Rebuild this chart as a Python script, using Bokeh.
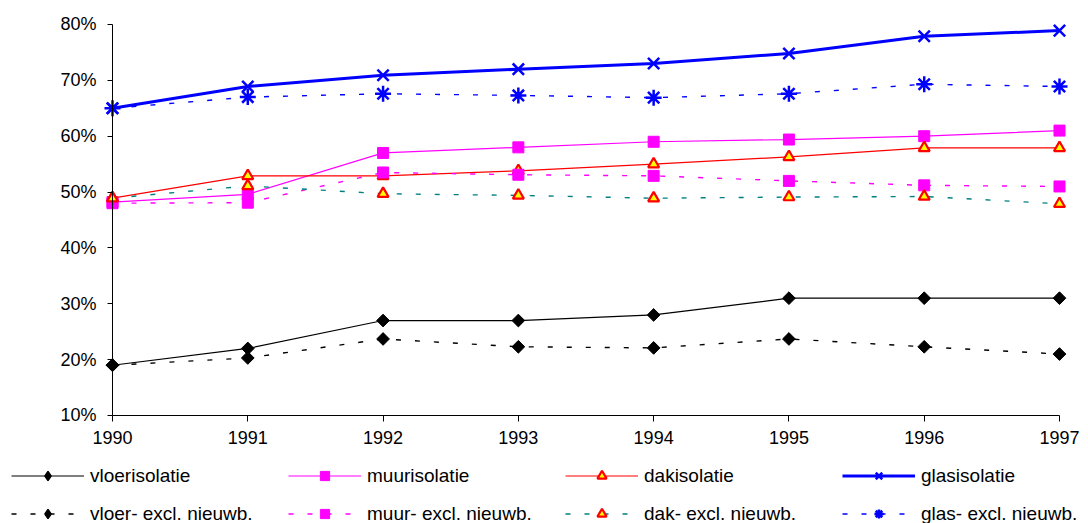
import math
from bokeh.plotting import figure
from bokeh.models import Range1d, FixedTicker, PrintfTickFormatter, Legend, LegendItem
from bokeh.embed import file_html
from bokeh.resources import INLINE

years = [1990, 1991, 1992, 1993, 1994, 1995, 1996, 1997]
vloer = [19.0, 22.0, 27.0, 27.0, 28.0, 31.0, 31.0, 31.0]
vloer_excl = [19.0, 20.3, 23.7, 22.3, 22.1, 23.7, 22.3, 21.0]
muur = [48.2, 49.6, 57.0, 58.0, 59.0, 59.4, 60.0, 61.0]
muur_excl = [48.0, 48.1, 53.5, 53.1, 52.9, 52.0, 51.2, 51.0]
dak = [48.9, 52.9, 52.9, 53.8, 55.0, 56.3, 57.9, 57.9]
dak_excl = [48.9, 51.1, 49.7, 49.4, 48.9, 49.1, 49.2, 47.9]
glas = [65.0, 68.9, 70.9, 72.0, 73.0, 74.8, 77.9, 78.9]
glas_excl = [65.0, 67.0, 67.6, 67.3, 66.9, 67.6, 69.3, 68.9]
y_ticks = [10, 20, 30, 40, 50, 60, 70, 80]

FONT = "Liberation Sans"
W, H = 1088, 523

p = figure(width=W, height=H, output_backend="svg", toolbar_location=None,
           x_range=Range1d(1989.1721, 1997.2144), y_range=Range1d(-9.334, 84.29),
           min_border=0)
p.outline_line_color = None
p.xgrid.visible = False
p.ygrid.visible = False
p.background_fill_color = "white"
p.border_fill_color = "white"

for ax in (p.xaxis[0], p.yaxis[0]):
    ax.axis_line_color = "black"
    ax.axis_line_width = 1
    ax.major_tick_line_color = "black"
    ax.major_tick_in = 0
    ax.minor_tick_line_color = None
    ax.major_label_text_font = FONT
    ax.major_label_text_font_size = "18px"
    ax.major_label_text_color = "black"

p.xaxis[0].fixed_location = y_ticks[0]
p.xaxis[0].bounds = (years[0], years[-1])
p.xaxis[0].ticker = FixedTicker(ticks=years)
p.xaxis[0].major_tick_out = 6
p.xaxis[0].major_label_standoff = 10

p.yaxis[0].fixed_location = years[0]
p.yaxis[0].bounds = (y_ticks[0], y_ticks[-1])
p.yaxis[0].ticker = FixedTicker(ticks=y_ticks)
p.yaxis[0].formatter = PrintfTickFormatter(format="%d%%")
p.yaxis[0].major_tick_out = 5
p.yaxis[0].major_label_standoff = 11

DASH = "5 14"

def series(vals, color, width, dash, marker, msize, fill, mline, mlw, label,
           angle=0.0, legend_marker=None):
    l = p.line(years, vals, line_color=color, line_width=width, line_dash=dash)
    rs = [l]
    if legend_marker is not None:
        # diamond used for the legend key; drawn underneath (fully covered by) the
        # rotated-square marker in the plot
        lm = p.scatter(years, vals, marker=legend_marker, size=msize + 1,
                       fill_color=fill, line_color=fill, line_width=1.5)
        rs.append(lm)
    s = p.scatter(years, vals, marker=marker, size=msize, fill_color=fill,
                  line_color=mline, line_width=mlw, angle=angle)
    if legend_marker is None:
        rs.append(s)
    return LegendItem(label=label, renderers=rs)

DIAM = math.pi / 4
it_vloer = series(vloer, "black", 1.2, "solid", "square", 9, "black", "black", 1,
                  "vloerisolatie", DIAM, "diamond")
it_muur = series(muur, "#FF00FF", 1.2, "solid", "square", 11, "#FF00FF", "#FF00FF", 1, "muurisolatie")
it_dak = series(dak, "#FF0000", 1.2, "solid", "triangle", 11, "#FFFF00", "#FF0000", 2.2, "dakisolatie")
it_glas = series(glas, "#0000FF", 3, "solid", "x", 16, None, "#0000FF", 2.5, "glasisolatie")
it_vloer_e = series(vloer_excl, "black", 1.4, DASH, "square", 9, "black", "black", 1,
                    "vloer- excl. nieuwb.", DIAM, "diamond")
it_muur_e = series(muur_excl, "#FF00FF", 1.4, DASH, "square", 11, "#FF00FF", "#FF00FF", 1, "muur- excl. nieuwb.")
it_dak_e = series(dak_excl, "#008080", 1.4, DASH, "triangle", 11, "#FFFF00", "#FF0000", 2.2, "dak- excl. nieuwb.")
it_glas_e = series(glas_excl, "#0000FF", 1.4, DASH, "asterisk", 16, None, "#0000FF", 2.5, "glas- excl. nieuwb.")

legend = Legend(items=[it_vloer, it_muur, it_dak, it_glas,
                       it_vloer_e, it_muur_e, it_dak_e, it_glas_e],
                location=(11, -2), orientation="horizontal", ncols=4,
                glyph_width=73, glyph_height=23, label_height=23, label_width=183,
                label_standoff=6, spacing=15, padding=0, margin=0,
                border_line_color=None, background_fill_alpha=0,
                label_text_font=FONT, label_text_font_size="19px",
                label_text_color="black")
p.add_layout(legend, "center")

open("out.html", "w").write(file_html(p, INLINE))
